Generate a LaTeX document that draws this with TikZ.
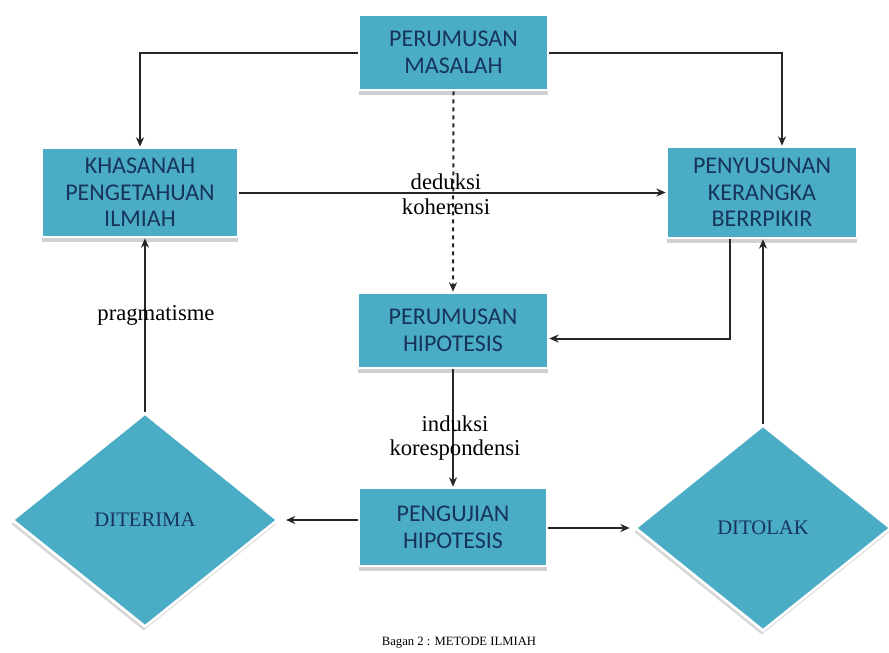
\documentclass[tikz,border=0pt]{standalone}
\usepackage{fontspec}
\setmainfont{Liberation Serif}
\newfontfamily\boxfont{Carlito}
\usetikzlibrary{arrows.meta,positioning,shapes.geometric,shadows}
\definecolor{aqua}{HTML}{4BACC6}
\definecolor{navytext}{HTML}{17355A}
\definecolor{linegray}{HTML}{262626}

\begin{document}
\begin{tikzpicture}[
  x=0.75pt,y=-0.75pt,
  box/.style={draw=white,line width=2pt,fill=aqua,text=navytext,align=center,
    font=\boxfont\fontsize{18}{20}\selectfont,inner sep=0pt,
    drop shadow={shadow xshift=0pt,shadow yshift=-4pt,fill=black!45,opacity=.4}},
  dec/.style={diamond,draw=white,line width=2pt,fill=aqua,text=navytext,inner sep=0pt,
    font=\fontsize{15.5}{18}\selectfont,
    drop shadow={shadow xshift=-1pt,shadow yshift=-3pt,fill=black!45,opacity=.35}},
  arr/.style={-{Stealth[length=7pt,width=6pt]},line width=1.5pt,draw=linegray},
  ann/.style={font=\fontsize{17}{18.5}\selectfont,align=center}
]
\useasboundingbox (0,0) rectangle (889,653);
\node[box,minimum width=141.75pt,minimum height=56.25pt] (masalah) at (453.5,52.5) {PERUMUSAN\\MASALAH};
\node[box,minimum width=147pt,minimum height=66.75pt] (khasanah) at (140,192.5) {KHASANAH\\PENGETAHUAN\\ILMIAH};
\node[box,minimum width=142.5pt,minimum height=68.25pt] (kerangka) at (762,192.5) {PENYUSUNAN\\KERANGKA\\BERRPIKIR};
\node[box,minimum width=142.5pt,minimum height=56.25pt] (hipotesis) at (453,330.5) {PERUMUSAN\\HIPOTESIS};
\node[box,minimum width=141pt,minimum height=58.5pt] (pengujian) at (453,527) {PENGUJIAN\\HIPOTESIS};
\node[dec,minimum width=199.5pt,minimum height=160.5pt] (diterima) at (145,520) {DITERIMA};
\node[dec,minimum width=192pt,minimum height=154.5pt] (ditolak) at (763,528) {DITOLAK};

\draw[arr] (masalah.west) -| (khasanah.north);
\draw[arr] (masalah.east) -| ([xshift=15pt]kerangka.north);
\draw[arr,dashed] (masalah.south) -- (hipotesis.north);
\draw[arr] (khasanah.east) -- (kerangka.west);
\draw[arr] ([xshift=-24pt]kerangka.south) |- ([yshift=-6pt]hipotesis.east);
\draw[arr] (hipotesis.south) -- (pengujian.north);
\draw[arr,shorten >=5pt] (pengujian.west |- diterima.east) -- (diterima.east);
\draw[arr,shorten >=3pt] (pengujian.east |- ditolak.west) -- (ditolak.west);
\draw[arr] (diterima.north) -- (diterima.north |- khasanah.south);
\draw[arr] (ditolak.north) -- (ditolak.north |- kerangka.south);

\node[ann] (deduksi) at (446,194) {deduksi\\koherensi};
\node[ann] (induksi) at (455,438) {induksi\\korespondensi};
\node[ann] (pragma) at (156,315) {pragmatisme};
\node[font=\fontsize{9.5}{11}\selectfont] (caption) at (459,643) {Bagan 2 : METODE ILMIAH};
\end{tikzpicture}
\end{document}
